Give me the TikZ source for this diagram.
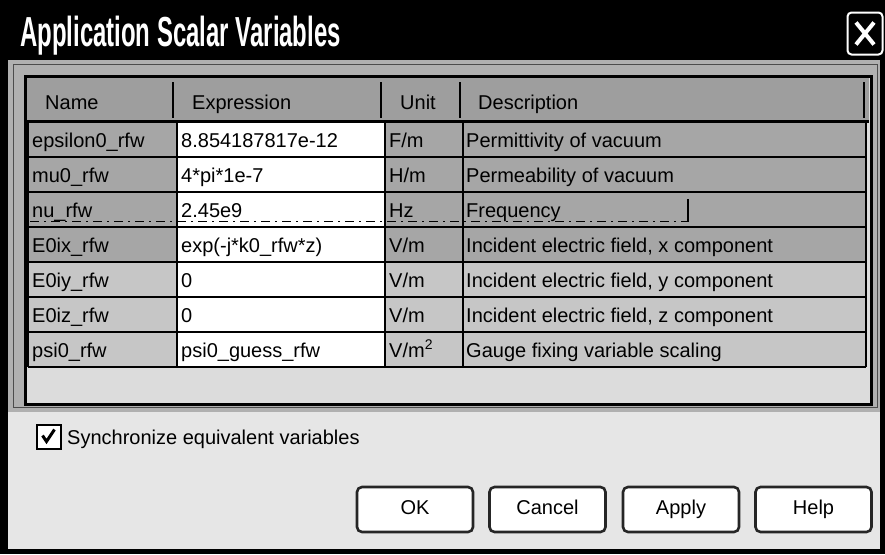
\documentclass[tikz,border=0pt]{standalone}
\usepackage{fontspec}
\setmainfont{Liberation Sans}
\definecolor{uppergray}{HTML}{B0B0B0}
\definecolor{cellgray}{HTML}{A6A6A6}
\definecolor{lightcell}{HTML}{C6C6C6}
\definecolor{hdrgray}{HTML}{9E9E9E}
\definecolor{emptybg}{HTML}{DCDCDC}
\definecolor{lowergray}{HTML}{E6E6E6}
\begin{document}
\begin{tikzpicture}[x=1pt,y=-1pt,
  txt/.style={anchor=base west, inner sep=0pt, font=\fontsize{20}{24}\selectfont},
  gridline/.style={line width=2pt, black},
  hsep/.style={line width=1.6pt, black},
  btn/.style={draw=black!85, line width=2.6pt, rounded corners=5pt, fill=white,
    minimum width=116pt, minimum height=45pt, inner sep=0pt,
    text height=14.5pt, text depth=4pt, font=\fontsize{20}{24}\selectfont}]
\useasboundingbox (0,0) rectangle (885,554);
% window frame and title bar
\fill[black] (0,0) rectangle (885,554);
\fill[uppergray] (8,60) rectangle (880,412);
\fill[lowergray] (8,412) rectangle (880,549);
\node[anchor=base west, inner sep=0pt, text=white,
  font=\bfseries\fontsize{42}{48}\selectfont] (title) at (20,46)
  {\scalebox{0.57}[1]{Application Scalar Variables}};
\node[draw=white, line width=2pt, rounded corners=4pt, fill=black,
  minimum width=35pt, minimum height=42pt, inner sep=0pt] (close) at (865,33.5) {};
\draw[white, line width=4pt] (close.center) ++(-9,-11) -- ++(18,22);
\draw[white, line width=4pt] (close.center) ++(9,-11) -- ++(-18,22);
% table frame
\draw[black!70, line width=1pt] (13,64) rectangle (877,407);
\fill[emptybg] (25,76) rectangle (871,404);
% header
\fill[hdrgray] (27,78) rectangle (869,121);
% cells
\foreach \t/\c in {122/cellgray,157/cellgray,192/cellgray,227/cellgray,262/lightcell,297/lightcell,332/lightcell}{
  \fill[\c] (28,\t) rectangle (177,\t+35);
  \fill[white] (177,\t) rectangle (385,\t+35);
  \fill[\c] (385,\t) rectangle (463,\t+35);
  \fill[\c] (463,\t) rectangle (866,\t+35);
}
\foreach \t in {157,192,227,262,297,332,367}{
  \draw[gridline] (28,\t) -- (866,\t);
}
\foreach \x in {28,177,385,463,866}{
  \draw[gridline] (\x,122) -- (\x,367);
}
\draw[black, line width=3pt] (27,121) -- (869,121);
\foreach \x in {173,381,460,864}{
  \draw[hsep] (\x,82) -- (\x,118);
}
\draw[black, line width=3pt] (25,76) rectangle (871,404);
% header texts
\node[txt] (hname) at (45,109) {Name};
\node[txt] (hexpr) at (192,109) {Expression};
\node[txt] (hunit) at (400,109) {Unit};
\node[txt] (hdesc) at (478,109) {Description};
% row 1
\node[txt] (n1) at (32,147) {epsilon0\_rfw};
\node[txt] (e1) at (181,147) {8.854187817e-12};
\node[txt] (u1) at (389,147) {F/m};
\node[txt] (d1) at (466,147) {Permittivity of vacuum};
% row 2
\node[txt] (n2) at (32,182) {mu0\_rfw};
\node[txt] (e2) at (181,182) {4*pi*1e-7};
\node[txt] (u2) at (389,182) {H/m};
\node[txt] (d2) at (466,182) {Permeability of vacuum};
% row 3
\node[txt] (n3) at (32,217) {nu\_rfw};
\node[txt] (e3) at (181,217) {2.45e9};
\node[txt] (u3) at (389,217) {Hz};
\node[txt] (d3) at (466,217) {Frequency};
\draw[black, line width=1.5pt, dash pattern=on 9pt off 5pt on 2pt off 5pt] (30,221.5) -- (688,221.5);
\draw[black, line width=2pt] (688,199) -- (688,222);
% row 4
\node[txt] (n4) at (32,252) {E0ix\_rfw};
\node[txt] (e4) at (181,252) {exp(-j*k0\_rfw*z)};
\node[txt] (u4) at (389,252) {V/m};
\node[txt] (d4) at (466,252) {Incident electric field, x component};
% row 5
\node[txt] (n5) at (32,287) {E0iy\_rfw};
\node[txt] (e5) at (181,287) {0};
\node[txt] (u5) at (389,287) {V/m};
\node[txt] (d5) at (466,287) {Incident electric field, y component};
% row 6
\node[txt] (n6) at (32,322) {E0iz\_rfw};
\node[txt] (e6) at (181,322) {0};
\node[txt] (u6) at (389,322) {V/m};
\node[txt] (d6) at (466,322) {Incident electric field, z component};
% row 7
\node[txt] (n7) at (32,357) {psi0\_rfw};
\node[txt] (e7) at (181,357) {psi0\_guess\_rfw};
\node[txt] (u7) at (389,357) {V/m\textsuperscript{2}};
\node[txt] (d7) at (466,357) {Gauge fixing variable scaling};
% checkbox
\node[draw=black, line width=2pt, fill=white, minimum size=24pt, inner sep=0pt] (chk) at (48.5,436.5) {};
\draw[black, line width=3pt] (chk.center) ++(-6,-1) -- ++(4,6) -- ++(8,-12);
\node[txt] (sync) at (67,444) {Synchronize equivalent variables};
% buttons
\node[btn] (ok) at (415,509.5) {OK};
\node[btn] (cancel) at (547.5,509.5) {Cancel};
\node[btn] (apply) at (681,509.5) {Apply};
\node[btn] (help) at (813.5,509.5) {Help};
\end{tikzpicture}
\end{document}
